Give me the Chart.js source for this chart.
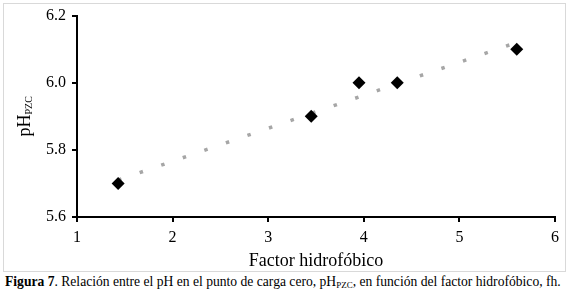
<!DOCTYPE html>
<html>
<head>
<meta charset="utf-8">
<script src="https://cdn.jsdelivr.net/npm/chart.js@4"></script>
<style>
  html, body { margin: 0; padding: 0; background: #fff; }
  #marco { position: absolute; left: 3px; top: 3px; width: 561px; height: 267px; border: 1px solid #d9d9d9; }
  #grafico { position: absolute; left: 0; top: 0; }
  #leyenda { position: absolute; left: 5px; top: 274px; font-family: "Liberation Serif", serif; font-size: 13.6px; color: #000; white-space: nowrap; }
  #leyenda sub { font-size: 9px; vertical-align: -2px; }
</style>
</head>
<body>
<div id="marco"></div>
<canvas id="grafico" width="569" height="272" style="width:569px;height:272px"></canvas>
<div id="leyenda"><b>Figura 7</b>. Relación entre el pH en el punto de carga cero, pH<sub>PZC</sub>, en función del factor hidrofóbico, fh.</div>
<script>
// Datos
const factorHidrofobico = [1.43, 3.45, 3.95, 4.35, 5.6];
const phPzc = [5.70, 5.90, 6.00, 6.00, 6.10];

// Línea de tendencia (extremos)
const tendenciaX = [1.43, 5.6];
const tendenciaY = [5.71, 6.12];

// Ticks de los ejes
const ticksX = [1, 2, 3, 4, 5, 6];
const ticksY = [5.6, 5.8, 6.0, 6.2];

const puntos = factorHidrofobico.map((x, i) => ({ x: x, y: phPzc[i] }));
const tendencia = tendenciaX.map((x, i) => ({ x: x, y: tendenciaY[i] }));

// Título del eje Y con subíndice
const tituloY = {
    id: 'tituloY',
    afterDraw(chart) {
        const ctx = chart.ctx;
        const area = chart.chartArea;
        ctx.save();
        ctx.translate(30, (area.top + area.bottom) / 2);
        ctx.rotate(-Math.PI / 2);
        ctx.fillStyle = '#000';
        ctx.textBaseline = 'alphabetic';
        ctx.font = '18px "Liberation Serif"';
        const w1 = ctx.measureText('pH').width;
        ctx.font = '10px "Liberation Serif"';
        const w2 = ctx.measureText('PZC').width;
        const inicio = -(w1 + w2) / 2;
        ctx.font = '18px "Liberation Serif"';
        ctx.fillText('pH', inicio, 0);
        ctx.font = '10px "Liberation Serif"';
        ctx.fillText('PZC', inicio + w1, 2);
        ctx.restore();
    }
};

const ctx = document.getElementById('grafico').getContext('2d');
new Chart(ctx, {
    type: 'scatter',
    data: {
        datasets: [{
            label: 'pHpzc',
            data: puntos,
            pointStyle: 'rectRot',
            pointRadius: 6.5,
            backgroundColor: '#000',
            borderColor: '#000',
            borderWidth: 0
        }, {
            label: 'Tendencia',
            data: tendencia,
            showLine: true,
            pointRadius: 0,
            borderColor: '#a6a6a6',
            borderWidth: 3.5,
            borderDash: [3.5, 19.3],
            borderCapStyle: 'butt'
        }]
    },
    options: {
        responsive: false,
        animation: false,
        layout: { padding: { left: 0, top: 15, right: 14, bottom: 0 } },
        plugins: {
            legend: { display: false },
            tooltip: { enabled: false }
        },
        scales: {
            x: {
                type: 'linear',
                min: 1,
                max: 6,
                afterBuildTicks: s => { s.ticks = ticksX.map(v => ({ value: v })); },
                afterFit: s => { s.height = 55; },
                border: { color: '#000', width: 2 },
                grid: { drawOnChartArea: false, drawTicks: true, tickLength: 5, color: '#000', lineWidth: 2 },
                ticks: { color: '#000', padding: 6, font: { family: 'Liberation Serif', size: 16 } },
                title: {
                    display: true,
                    text: 'Factor hidrofóbico',
                    color: '#000',
                    padding: { top: 3, bottom: 0 },
                    font: { family: 'Liberation Serif', size: 18 }
                }
            },
            y: {
                type: 'linear',
                min: 5.6,
                max: 6.2,
                afterBuildTicks: s => { s.ticks = ticksY.map(v => ({ value: v })); },
                afterFit: s => { s.width = 77; },
                border: { color: '#000', width: 2 },
                grid: { drawOnChartArea: false, drawTicks: true, tickLength: 5, color: '#000', lineWidth: 2 },
                ticks: {
                    color: '#000',
                    padding: 6,
                    font: { family: 'Liberation Serif', size: 16 },
                    callback: v => Number(v).toFixed(1)
                }
            }
        }
    },
    plugins: [tituloY]
});
</script>
</body>
</html>
